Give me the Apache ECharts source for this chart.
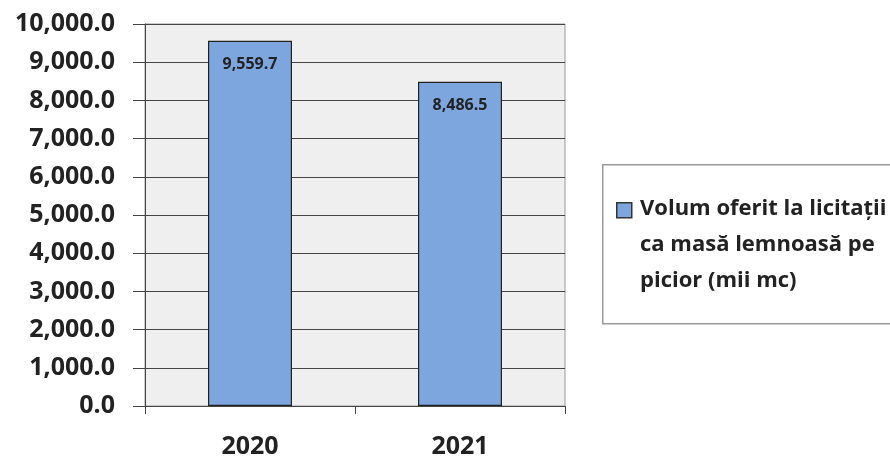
<!DOCTYPE html>
<html><head><meta charset="utf-8">
<script src="https://cdn.jsdelivr.net/npm/echarts@6/dist/echarts.min.js"></script>
<style>html,body{margin:0;padding:0;background:#fff}#c{width:890px;height:459px}</style>
</head><body><div id="c"></div>
<script>
const categories = ['2020', '2021'];
const seriesName = 'Volum oferit la licitații\nca masă lemnoasă pe\npicior (mii mc)';
const values = [9559.7, 8486.5];
const yMin = 0, yMax = 10000, yStep = 1000;

const fmt = v => v.toLocaleString('en-US', {minimumFractionDigits: 1, maximumFractionDigits: 1});
const FONT = 'Open Sans';
const chart = echarts.init(document.getElementById('c'));
chart.setOption({
  backgroundColor: '#fff',
  animation: false,
  textStyle: {fontFamily: FONT},
  grid: {left: 145, right: 325, top: 24, bottom: 50, show: true, backgroundColor: '#efefef', borderColor: '#999', borderWidth: 1},
  xAxis: {
    type: 'category', data: categories,
    axisLine: {lineStyle: {color: '#444'}},
    axisTick: {show: true, length: 8, lineStyle: {color: '#444'}},
    axisLabel: {fontFamily: FONT, fontWeight: 'bold', fontSize: 25, color: '#222', margin: 28}
  },
  yAxis: {
    type: 'value', min: yMin, max: yMax, interval: yStep,
    axisLine: {show: true, lineStyle: {color: '#444'}},
    axisTick: {show: true, length: 12, lineStyle: {color: '#444'}},
    splitLine: {lineStyle: {color: '#444', width: 1}},
    axisLabel: {fontFamily: FONT, fontWeight: 'bold', fontSize: 25, color: '#222', margin: 30, formatter: fmt}
  },
  series: [{
    type: 'bar', name: seriesName, data: values, barWidth: '40%',
    itemStyle: {color: '#7ea6de', borderColor: '#222', borderWidth: 1.2},
    label: {show: true, position: 'insideTop', distance: 16, fontFamily: FONT, fontWeight: 'bold', fontSize: 16, color: '#222', formatter: p => fmt(p.value)}
  }],
  graphic: [
    {type: 'rect', left: 602, top: 164, shape: {width: 320, height: 159}, style: {fill: '#fff', stroke: '#999', lineWidth: 1.5}},
    {type: 'rect', left: 616, top: 202, shape: {width: 15, height: 15}, style: {fill: '#7ea6de', stroke: '#333', lineWidth: 1.5}},
    {type: 'text', left: 640, top: 191, style: {text: seriesName, font: 'bold 22px "' + FONT + '"', lineHeight: 36, fill: '#222'}}
  ]
});
</script></body></html>
